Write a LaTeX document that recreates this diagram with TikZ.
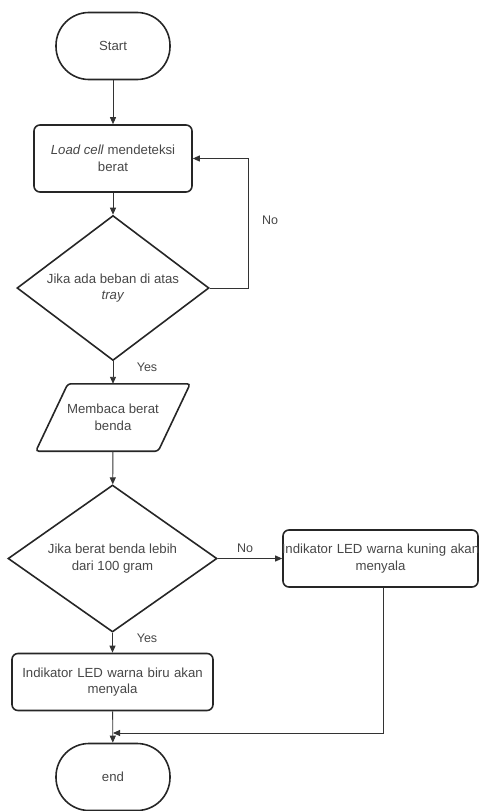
\documentclass[tikz,border=0pt]{standalone}
\usepackage{fontspec}
\setmainfont{Liberation Sans}
\usetikzlibrary{shapes.geometric,arrows.meta}
\begin{document}
\begin{tikzpicture}[x=1pt,y=-1pt,
  every node/.style={text=black!72, font=\fontsize{13.2}{16.5}\selectfont},
  shapeline/.style={draw=black!85, line width=1.6pt},
  term/.style={shapeline, rounded corners=33pt, minimum width=114pt, minimum height=67pt, inner sep=0pt},
  procbox/.style={shapeline, rounded corners=6pt, inner sep=0pt, align=center},
  decision/.style={shapeline, diamond, inner sep=0pt, align=center},
  conn/.style={draw=black!80, line width=0.9pt, -{Triangle[length=7pt,width=6pt]}},
  lbl/.style={text=black!72, font=\fontsize{12.5}{14}\selectfont}
]
\useasboundingbox (0,0) rectangle (481,811);
\node[term] (start) at (113,46) {Start};
\node[procbox, minimum width=158pt, minimum height=67pt] (load) at (113,158.5) {\textit{Load cell} mendeteksi\\berat};
\node[decision, aspect=1.32, minimum width=192pt, minimum height=145pt] (d1) at (113,288) {Jika ada beban di atas\\\textit{tray}};
\node[minimum width=154pt, minimum height=67pt, inner sep=0pt, align=center] (read) at (113,417.5) {Membaca berat\\benda};
\draw[shapeline, rounded corners=3pt] (read.south west) -- ([xshift=32pt]read.north west) -- (read.north east) -- ([xshift=-32pt]read.south east) -- cycle;
\node[decision, aspect=1.42, minimum width=209pt, minimum height=147pt] (d2) at (112.5,558.5) {Jika berat benda lebih\\dari 100 gram};
\node[procbox, minimum width=195pt, minimum height=57pt, text width=180pt] (yellow) at (380.5,558.5) {\makebox[180pt]{Indikator LED warna kuning akan}\\menyala};
\node[procbox, minimum width=201pt, minimum height=57pt, text width=190pt] (blue) at (112.5,682) {Indikator LED warna biru akan\\menyala};
\node[term] (end) at (113,777) {end};

\draw[conn] (start) -- (load);
\draw[conn] (load) -- (d1);
\draw[conn] (d1.east) -- ++(39pt,0) |- (load.east);
\node[lbl] (no1) at (270,220) {No};
\draw[conn] (d1) -- (read);
\node[lbl] (yes1) at (147,367) {Yes};
\draw[conn] (read) -- (d2);
\draw[conn] (d2.east) -- (yellow.west);
\node[lbl] (no2) at (245,548) {No};
\draw[conn] (d2) -- (blue);
\node[lbl] (yes2) at (147,638) {Yes};
\draw[conn] (blue) -- (end);
\coordinate (join) at (113,733);
\draw[conn] ([xshift=2.5pt]yellow.south) |- (join);
\end{tikzpicture}
\end{document}
